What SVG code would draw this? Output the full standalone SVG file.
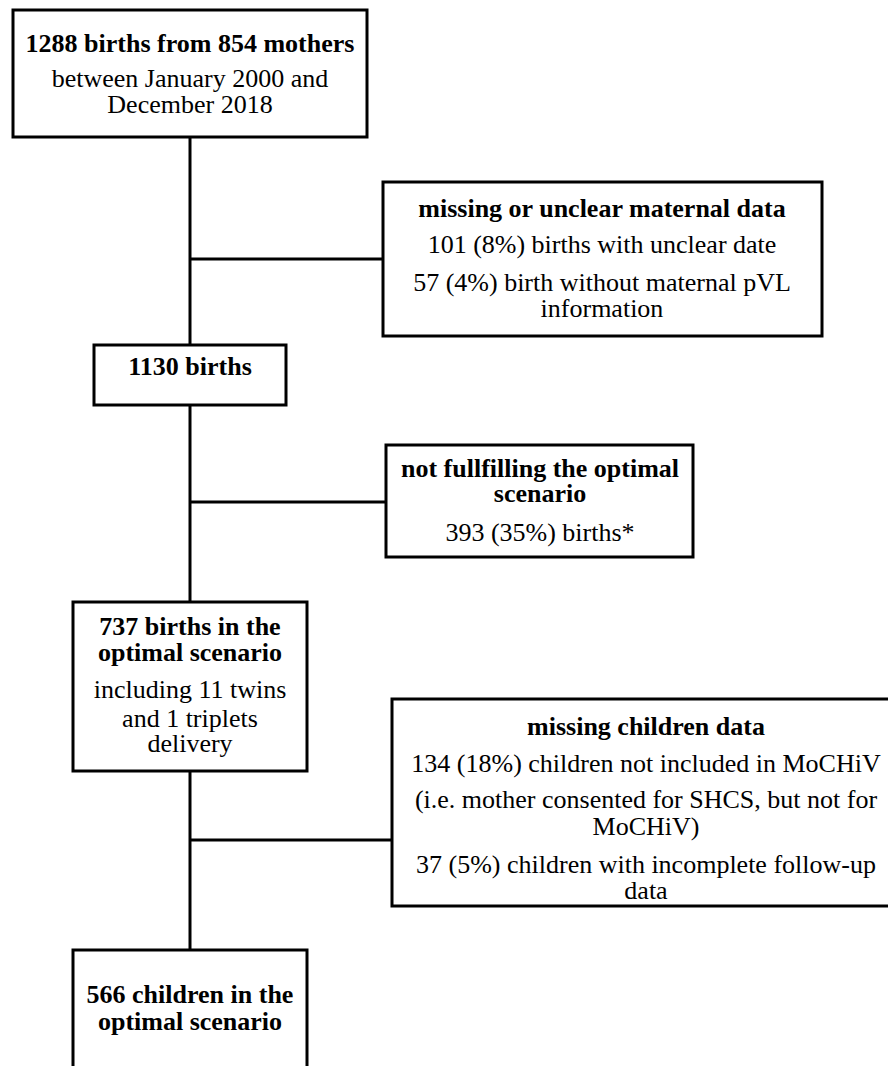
<svg xmlns="http://www.w3.org/2000/svg" width="888" height="1066" viewBox="0 0 888 1066">
<style>
.box{fill:#fff;stroke:#000;stroke-width:3}
.c{fill:none;stroke:#000;stroke-width:3}
text{font-family:"Liberation Serif","Times New Roman",serif;font-size:26px;fill:#000;text-anchor:middle}
.b{font-weight:bold}
</style>
<rect width="888" height="1066" fill="#fff"/>
<g id="connectors">
<line class="c" x1="190" y1="137" x2="190" y2="345"/>
<line class="c" x1="190" y1="259" x2="383" y2="259"/>
<line class="c" x1="190" y1="405" x2="190" y2="602"/>
<line class="c" x1="190" y1="502" x2="386" y2="502"/>
<line class="c" x1="190" y1="771" x2="190" y2="950"/>
<line class="c" x1="190" y1="840" x2="392" y2="840"/>
</g>
<g id="n1">
<rect class="box" x="13" y="10" width="354" height="127"/>
<text class="b" x="190" y="52">1288 births from 854 mothers</text>
<text x="190" y="87">between January 2000 and</text>
<text x="190" y="113">December 2018</text>
</g>
<g id="n2">
<rect class="box" x="383" y="182" width="439" height="154"/>
<text class="b" x="602" y="217">missing or unclear maternal data</text>
<text x="602" y="253">101 (8%) births with unclear date</text>
<text x="602" y="291">57 (4%) birth without maternal pVL</text>
<text x="602" y="317">information</text>
</g>
<g id="n3">
<rect class="box" x="94" y="345" width="192" height="60"/>
<text class="b" x="190" y="375">1130 births</text>
</g>
<g id="n4">
<rect class="box" x="386" y="445" width="307" height="112"/>
<text class="b" x="540" y="477">not fullfilling the optimal</text>
<text class="b" x="540" y="502">scenario</text>
<text x="540" y="541">393 (35%) births*</text>
</g>
<g id="n5">
<rect class="box" x="73" y="602" width="234" height="169"/>
<text class="b" x="190" y="635">737 births in the</text>
<text class="b" x="190" y="661">optimal scenario</text>
<text x="190" y="698">including 11 twins</text>
<text x="190" y="727">and 1 triplets</text>
<text x="190" y="752">delivery</text>
</g>
<g id="n6">
<rect class="box" x="392" y="699" width="508" height="207"/>
<text class="b" x="646" y="735">missing children data</text>
<text x="646" y="772">134 (18%) children not included in MoCHiV</text>
<text x="646" y="808">(i.e. mother consented for SHCS, but not for</text>
<text x="646" y="835">MoCHiV)</text>
<text x="646" y="873">37 (5%) children with incomplete follow-up</text>
<text x="646" y="899">data</text>
</g>
<g id="n7">
<rect class="box" x="73" y="950" width="234" height="140"/>
<text class="b" x="190" y="1003">566 children in the</text>
<text class="b" x="190" y="1030">optimal scenario</text>
</g>
</svg>
